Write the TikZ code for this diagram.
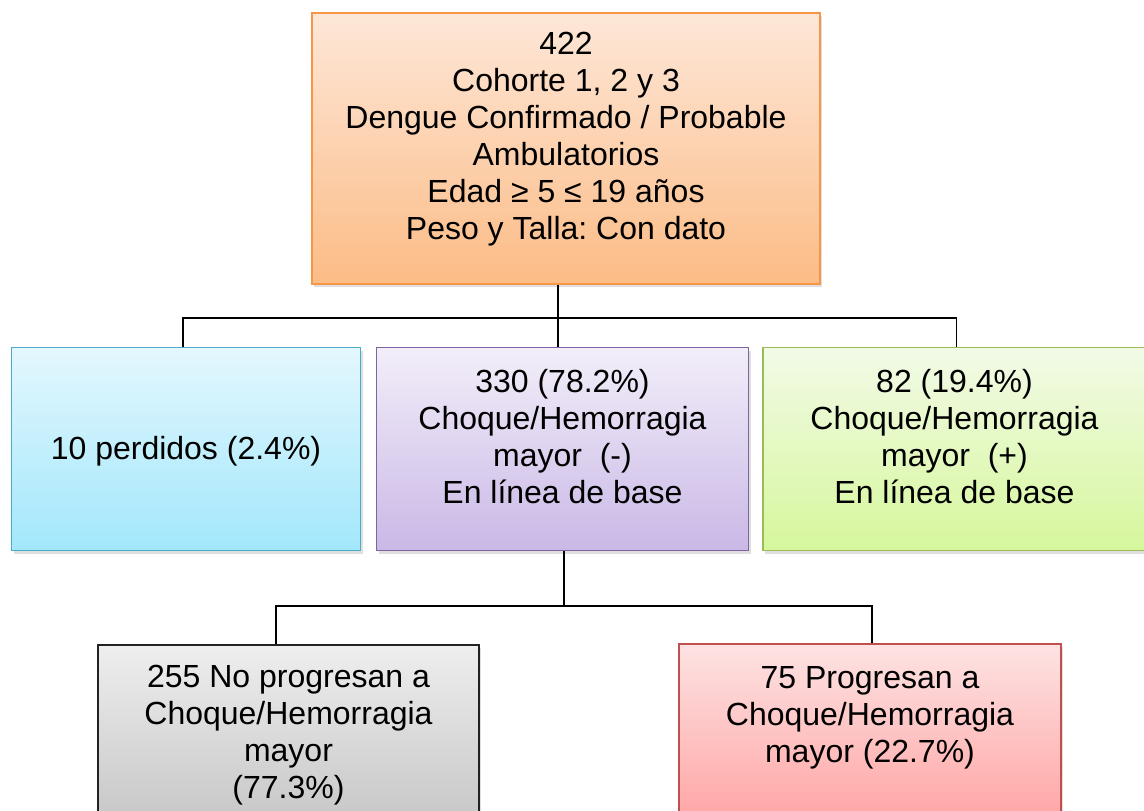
\documentclass[tikz,border=0pt]{standalone}
\usepackage{fontspec}
\setmainfont{Liberation Sans}
\frenchspacing
\usetikzlibrary{shadows}

\definecolor{naranjaborde}{HTML}{F79646}
\definecolor{naranjaarriba}{HTML}{FDE7D8}
\definecolor{naranjaabajo}{HTML}{FCBC86}
\definecolor{azulborde}{HTML}{4BACC6}
\definecolor{azularriba}{HTML}{E3F7FD}
\definecolor{azulabajo}{HTML}{A2E7FC}
\definecolor{moradoborde}{HTML}{8064A2}
\definecolor{moradoarriba}{HTML}{F2EEF9}
\definecolor{moradoabajo}{HTML}{CAB8E6}
\definecolor{verdeborde}{HTML}{9BBB59}
\definecolor{verdearriba}{HTML}{F2FAE7}
\definecolor{verdeabajo}{HTML}{D6F79C}
\definecolor{grisborde}{HTML}{222222}
\definecolor{grisarriba}{HTML}{EEEEEE}
\definecolor{grisabajo}{HTML}{C4C4C4}
\definecolor{rojoborde}{HTML}{C0504D}
\definecolor{rojoarriba}{HTML}{FEE3E3}
\definecolor{rojoabajo}{HTML}{FFA0A0}

\tikzset{
  caja/.style={draw, line width=1.8pt,
    drop shadow={shadow xshift=2pt, shadow yshift=-3pt, opacity=0.25}},
  texto/.style={align=center, inner sep=0pt,
    font=\fontsize{32}{37}\selectfont},
  linea/.style={line width=1.4pt, black},
}

\begin{document}
\begin{tikzpicture}[x=1pt, y=-1pt]
  \useasboundingbox (0,0) rectangle (1144,811);
  \clip (0,0) rectangle (1144,811);

  % cohorte completa
  \node [caja, draw=naranjaborde, top color=naranjaarriba, bottom color=naranjaabajo,
         minimum width=508pt, minimum height=271pt] (cohorte) at (566,148.5) {};
  \node [texto] (cohorte-t) at ([yshift=9.5pt]cohorte.center)
        {422\\Cohorte 1, 2 y 3\\Dengue Confirmado / Probable\\Ambulatorios\\Edad ≥ 5 ≤ 19 años\\Peso y Talla: Con dato};

  % linea de base
  \node [caja, draw=azulborde, top color=azularriba, bottom color=azulabajo,
         minimum width=349pt, minimum height=203pt] (perdidos) at (186,449) {};
  \node [texto] (perdidos-t) at ([yshift=-2pt]perdidos.center) {10 perdidos (2.4\%)};

  \node [caja, draw=moradoborde, top color=moradoarriba, bottom color=moradoabajo,
         minimum width=372pt, minimum height=203pt] (negativo) at (562.5,449) {};
  \node [texto] (negativo-t) at ([yshift=12pt]negativo.center)
        {330 (78.2\%)\\Choque/Hemorragia\\mayor\ \ (-)\\En línea de base};

  \node [caja, draw=verdeborde, top color=verdearriba, bottom color=verdeabajo,
         minimum width=387pt, minimum height=203pt] (positivo) at (956.5,449) {};
  \node [texto] (positivo-t) at ([xshift=-2pt, yshift=12pt]positivo.center)
        {82 (19.4\%)\\Choque/Hemorragia\\mayor\ \ (+)\\En línea de base};

  % seguimiento
  \node [caja, draw=grisborde, top color=grisarriba, bottom color=grisabajo,
         minimum width=381pt, minimum height=190pt] (noprogresan) at (288.5,740) {};
  \node [texto] (noprogresan-t) at ([yshift=4.5pt]noprogresan.center)
        {255 No progresan a\\Choque/Hemorragia\\mayor\\(77.3\%)};

  \node [caja, draw=rojoborde, top color=rojoarriba, bottom color=rojoabajo,
         minimum width=382pt, minimum height=190pt] (progresan) at (870,739) {};
  \node [texto] (progresan-t) at ([yshift=21.5pt]progresan.center)
        {75 Progresan a\\Choque/Hemorragia\\mayor (22.7\%)};

  % conectores
  \coordinate (rama1) at (558,318);
  \coordinate (rama2) at (564,606);
  \draw [linea] (rama1 |- cohorte.south) -- (rama1 |- negativo.north);
  \draw [linea] ([xshift=-3pt]perdidos.north) |- (rama1) -| (positivo.north);
  \draw [linea] (rama2 |- negativo.south) -- (rama2);
  \draw [linea] ([xshift=-12.5pt]noprogresan.north) |- (rama2) -| ([xshift=2pt]progresan.north);
\end{tikzpicture}
\end{document}
